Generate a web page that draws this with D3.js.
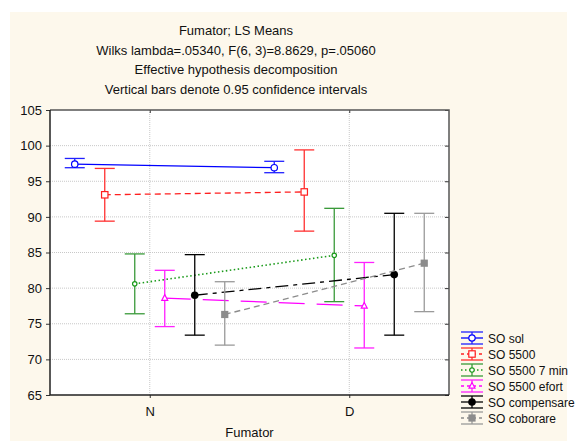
<!DOCTYPE html>
<html>
<head>
<meta charset="utf-8">
<script src="https://cdn.jsdelivr.net/npm/d3@7"></script>
<style>
  body { margin: 0; background: #fff; overflow: hidden; }
  text { font-family: "Liberation Sans", Arial, sans-serif; fill: #111; }
</style>
</head>
<body>
<div id="chart"></div>
<script>
// Categories on the x axis
var categories = ["N", "D"];

// Series names (legend)
var seriesNames = ["SO sol", "SO 5500", "SO 5500 7 min", "SO 5500 efort", "SO compensare", "SO coborare"];

// LS means per series, [N, D]
var meanValues = [
    [97.4, 96.9],
    [93.1, 93.5],
    [80.6, 84.6],
    [78.6, 77.5],
    [79.0, 81.9],
    [76.3, 83.5]
];

// 0.95 confidence interval, lower and upper bounds [N, D]
var lowerValues = [
    [96.9, 96.2],
    [89.4, 88.0],
    [76.4, 78.1],
    [74.6, 71.6],
    [73.4, 73.4],
    [72.0, 76.7]
];
var upperValues = [
    [98.2, 97.8],
    [96.8, 99.4],
    [84.8, 91.2],
    [82.5, 83.6],
    [84.7, 90.5],
    [80.9, 90.5]
];

var yTicks = [65, 70, 75, 80, 85, 90, 95, 100, 105];

var titleLines = [
    "Fumator; LS Means",
    "Wilks lambda=.05340, F(6, 3)=8.8629, p=.05060",
    "Effective hypothesis decomposition",
    "Vertical bars denote 0.95 confidence intervals"
];

// styles per series
var lineColors = ["#0000ff", "#ff2020", "#1a9a1a", "#ff00ff", "#000000", "#8c8c8c"];
var barColors = ["#2020ff", "#ff3030", "#3a9a3a", "#ff20ff", "#000000", "#9a9a9a"];
var dashes = ["none", "6,4", "1.5,2.5", "26,12", "13,5,4,5", "6,4"];
var markers = ["circle", "square", "smallcircle", "triangle", "dot", "filledsquare"];

function drawChart() {
    var width = 576, height = 441;
    var margin = { top: 110, right: 127, bottom: 46, left: 50 };
    var plotW = width - margin.left - margin.right;
    var plotH = height - margin.top - margin.bottom;

    var svg = d3.select("#chart")
        .html("")
        .append("svg")
        .attr("width", width)
        .attr("height", height);

    // cream background
    svg.append("rect")
        .attr("x", 10).attr("y", 12)
        .attr("width", 557).attr("height", height - 12)
        .attr("fill", "#fdf8ec");

    // titles
    svg.selectAll(".title")
        .data(titleLines)
        .enter().append("text")
        .attr("class", "title")
        .attr("x", 236)
        .attr("y", function (d, i) { return 35 + i * 19.6; })
        .attr("text-anchor", "middle")
        .style("font-size", "13px")
        .text(function (d) { return d; });

    var g = svg.append("g")
        .attr("transform", "translate(" + margin.left + "," + margin.top + ")");

    g.append("rect")
        .attr("width", plotW).attr("height", plotH)
        .attr("fill", "#fff");

    var xScale = d3.scalePoint()
        .domain(categories)
        .range([0, plotW])
        .padding(0.5);

    var yScale = d3.scaleLinear()
        .domain([65, 105])
        .range([plotH, 0]);

    var offset = d3.scaleLinear()
        .domain([0, seriesNames.length - 1])
        .range([-75, 75]);

    // grid lines
    g.selectAll(".hgrid")
        .data(yTicks.slice(1, -1))
        .enter().append("line")
        .attr("x1", 0).attr("x2", plotW)
        .attr("y1", function (d) { return yScale(d); })
        .attr("y2", function (d) { return yScale(d); })
        .attr("stroke", "#c8c8c8").attr("stroke-dasharray", "1,1");

    g.selectAll(".vgrid")
        .data(categories)
        .enter().append("line")
        .attr("x1", function (d) { return xScale(d); })
        .attr("x2", function (d) { return xScale(d); })
        .attr("y1", 0).attr("y2", plotH)
        .attr("stroke", "#c8c8c8").attr("stroke-dasharray", "1,1");

    // axes
    var yAxis = d3.axisLeft(yScale).tickValues(yTicks).tickSize(4).tickSizeOuter(0);
    var yAxisG = g.append("g").call(yAxis);
    yAxisG.selectAll("text").style("font-size", "13px").attr("x", -8).attr("fill", "#111");

    var yAxisR = d3.axisLeft(yScale).tickValues(yTicks).tickSize(4).tickSizeOuter(0).tickFormat("");
    g.append("g").attr("transform", "translate(" + plotW + ",0)").call(yAxisR);

    var xAxis = d3.axisBottom(xScale).tickSize(3).tickSizeOuter(0);
    var xAxisG = g.append("g").attr("transform", "translate(0," + plotH + ")").call(xAxis);
    xAxisG.selectAll("text").style("font-size", "13px").attr("y", 12).attr("fill", "#111");

    var xAxisT = d3.axisBottom(xScale).tickSize(3).tickSizeOuter(0).tickFormat("");
    g.append("g").call(xAxisT);

    g.selectAll(".domain").remove();
    g.selectAll(".tick line").attr("stroke", "#333");

    // frame
    g.append("path")
        .attr("d", "M0,0H" + plotW + "V" + plotH)
        .attr("fill", "none").attr("stroke", "#555").attr("stroke-width", 1.5);
    g.append("path")
        .attr("d", "M0,0V" + plotH + "H" + plotW)
        .attr("fill", "none").attr("stroke", "#222").attr("stroke-width", 1.5);

    // x axis title
    svg.append("text")
        .attr("x", margin.left + plotW / 2)
        .attr("y", 437)
        .attr("text-anchor", "middle")
        .style("font-size", "13px")
        .text("Fumator");

    function px(s, c) { return xScale(categories[c]) + offset(s); }

    function drawMarker(sel, type, color, x, y) {
        if (type === "circle") {
            sel.append("circle").attr("cx", x).attr("cy", y).attr("r", 3.2)
                .attr("fill", "#fff").attr("stroke", color).attr("stroke-width", 1.2);
        } else if (type === "smallcircle") {
            sel.append("circle").attr("cx", x).attr("cy", y).attr("r", 2.2)
                .attr("fill", "#fff").attr("stroke", color).attr("stroke-width", 1.2);
        } else if (type === "square") {
            sel.append("rect").attr("x", x - 3.2).attr("y", y - 3.2).attr("width", 6.4).attr("height", 6.4)
                .attr("fill", "#fff").attr("stroke", color).attr("stroke-width", 1.2);
        } else if (type === "triangle") {
            sel.append("path").attr("d", "M" + x + "," + (y - 3.5) + "L" + (x + 3) + "," + (y + 2.2) + "L" + (x - 3) + "," + (y + 2.2) + "Z")
                .attr("fill", "#fff").attr("stroke", color).attr("stroke-width", 1.2);
        } else if (type === "dot") {
            sel.append("circle").attr("cx", x).attr("cy", y).attr("r", 3.8).attr("fill", color);
        } else if (type === "filledsquare") {
            sel.append("rect").attr("x", x - 3.6).attr("y", y - 3.6).attr("width", 7.2).attr("height", 7.2)
                .attr("fill", color);
        }
    }

    var line = d3.line();

    seriesNames.forEach(function (name, s) {
        var sg = g.append("g");
        // connecting line
        sg.append("path")
            .attr("d", line(categories.map(function (c, ci) { return [px(s, ci), yScale(meanValues[s][ci])]; })))
            .attr("fill", "none")
            .attr("stroke", lineColors[s])
            .attr("stroke-width", s === 2 ? 1.6 : 1.3)
            .attr("stroke-dasharray", dashes[s]);
        // error bars
        categories.forEach(function (c, ci) {
            var x = px(s, ci);
            var y0 = yScale(lowerValues[s][ci]), y1 = yScale(upperValues[s][ci]);
            sg.append("line").attr("x1", x).attr("x2", x).attr("y1", y0).attr("y2", y1)
                .attr("stroke", barColors[s]).attr("stroke-width", 1.3);
            [y0, y1].forEach(function (yy) {
                sg.append("line").attr("x1", x - 10).attr("x2", x + 10).attr("y1", yy).attr("y2", yy)
                    .attr("stroke", barColors[s]).attr("stroke-width", 1.3);
            });
        });
        categories.forEach(function (c, ci) {
            drawMarker(sg, markers[s], lineColors[s], px(s, ci), yScale(meanValues[s][ci]));
        });
    });

    // legend
    var legend = svg.append("g").attr("transform", "translate(472,338)");
    seriesNames.forEach(function (name, s) {
        var lg = legend.append("g").attr("transform", "translate(0," + (s * 16) + ")");
        [-6, 6].forEach(function (yy) {
            lg.append("line").attr("x1", -11).attr("x2", 11).attr("y1", yy).attr("y2", yy)
                .attr("stroke", barColors[s]).attr("stroke-width", 1.3);
        });
        lg.append("line").attr("x1", 0).attr("x2", 0).attr("y1", -6).attr("y2", 6)
            .attr("stroke", barColors[s]).attr("stroke-width", 1.3);
        lg.append("line").attr("x1", -11).attr("x2", 11).attr("y1", 0).attr("y2", 0)
            .attr("stroke", lineColors[s]).attr("stroke-width", 1.3)
            .attr("stroke-dasharray", s === 0 || s === 4 ? "none" : (s === 2 ? "1.5,2.5" : "3,3"));
        drawMarker(lg, markers[s], lineColors[s], 0, 0);
        lg.append("text")
            .attr("x", 16).attr("y", 4.5)
            .style("font-size", "12px")
            .text(name);
    });
}

drawChart();
</script>
</body>
</html>
